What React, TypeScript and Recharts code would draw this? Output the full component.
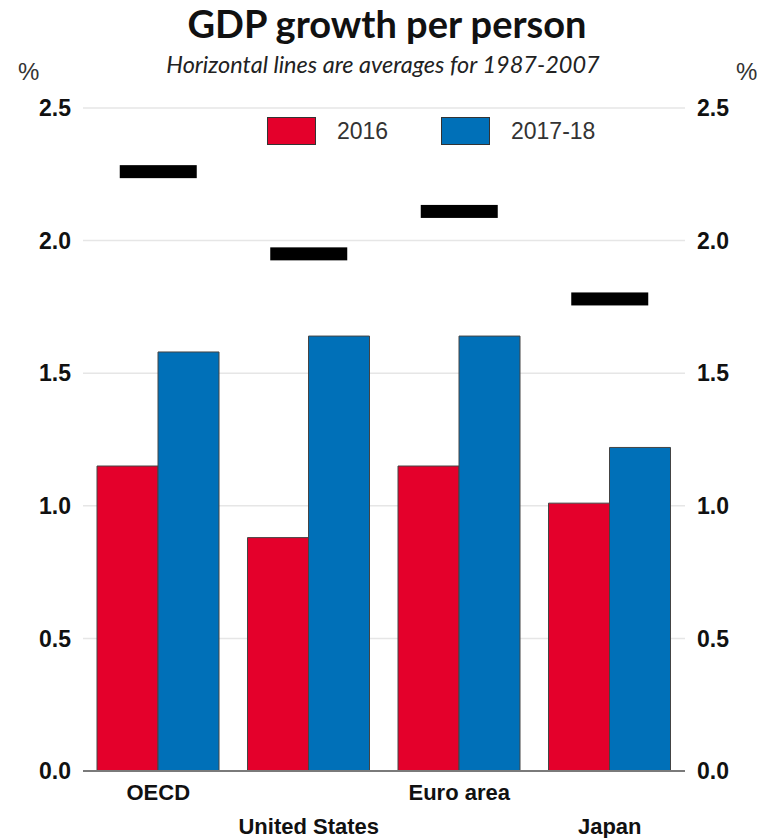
import React from 'react';
import { ComposedChart, Bar, Scatter, XAxis, YAxis, CartesianGrid, Legend } from 'recharts';

const categories = ['OECD', 'United States', 'Euro area', 'Japan'];
const growth2016 = [1.15, 0.88, 1.15, 1.01];
const growth2017 = [1.58, 1.64, 1.64, 1.22];
const avg8707 = [2.26, 1.95, 2.11, 1.78];
const yTicks = [0, 0.5, 1, 1.5, 2, 2.5];

const RED = '#e4002b';
const BLUE = '#0070b8';
const AXIS_FONT = '"Liberation Sans", Arial, sans-serif';

const data = categories.map((name, i) => ({
  name,
  y2016: growth2016[i],
  y2017: growth2017[i],
  avg: avg8707[i],
}));

// black horizontal marker for the 1987-2007 average
function AvgMark(props: any) {
  const { cx, cy } = props;
  if (cx == null || cy == null) return null;
  return <rect x={cx - 38.5} y={cy - 6.5} width={77} height={13} fill="#000" />;
}

// categories alternate between two rows
function CategoryTick(props: any) {
  const { x, y, payload, index } = props;
  const low = index % 2 === 1;
  return (
    <text
      x={x}
      y={y + (low ? 61 : 27)}
      textAnchor="middle"
      fontFamily={AXIS_FONT}
      fontWeight="bold"
      fontSize={22}
      fill="#111"
    >
      {payload.value}
    </text>
  );
}

function LegendBox(props: any) {
  const items = (props.payload || []).filter((p: any) => p.type !== 'none');
  const pos = [0, 174];
  return (
    <div style={{ position: 'relative', width: 340, height: 30 }}>
      {items.map((p: any, i: number) => (
        <div key={p.value} style={{ position: 'absolute', left: pos[i] || 0, top: 0, display: 'flex', alignItems: 'center' }}>
          <div style={{ width: 47, height: 26, background: p.color, border: '1px solid #333' }} />
          <span style={{ marginLeft: 21, fontFamily: AXIS_FONT, fontSize: 23, color: '#333' }}>{p.value}</span>
        </div>
      ))}
    </div>
  );
}

const fmt = (v: number) => v.toFixed(1);
const tickStyle = { fontFamily: AXIS_FONT, fontWeight: 'bold', fontSize: 23, fill: '#111' };

export default function App() {
  return (
    <div style={{ position: 'absolute', left: 0, top: 0, width: 757, height: 838, background: '#fff' }}>
      <ComposedChart
        width={757}
        height={838}
        data={data}
        margin={{ top: 108, right: 0, bottom: 0, left: 0 }}
        barCategoryGap={14}
        barGap={0}
      >
        <CartesianGrid yAxisId="left" vertical={false} stroke="#e6e6e6" strokeWidth={1.5} />
        <XAxis
          dataKey="name"
          height={67}
          tick={<CategoryTick />}
          tickLine={false}
          tickSize={0}
          axisLine={{ stroke: '#7a7a7a', strokeWidth: 2 }}
          interval={0}
        />
        <YAxis
          yAxisId="left"
          orientation="left"
          width={83}
          domain={[0, 2.5]}
          ticks={yTicks}
          tickFormatter={fmt}
          axisLine={false}
          tickLine={false}
          tickSize={0}
          tickMargin={12}
          tick={tickStyle}
        />
        <YAxis
          yAxisId="right"
          orientation="right"
          width={72}
          domain={[0, 2.5]}
          ticks={yTicks}
          tickFormatter={fmt}
          axisLine={false}
          tickLine={false}
          tickSize={0}
          tickMargin={12}
          tick={tickStyle}
        />
        <Legend
          layout="horizontal"
          verticalAlign="middle"
          align="center"
          content={<LegendBox />}
          wrapperStyle={{ top: 117, left: 267, width: 340, height: 30 }}
        />
        <Bar yAxisId="left" dataKey="y2016" name="2016" fill={RED} stroke="#444" strokeWidth={1} isAnimationActive={false} />
        <Bar yAxisId="left" dataKey="y2017" name="2017-18" fill={BLUE} stroke="#444" strokeWidth={1} isAnimationActive={false} />
        <Scatter yAxisId="right" dataKey="avg" name="1987-2007 average" legendType="none" fill="#000" shape={<AvgMark />} isAnimationActive={false} />
      </ComposedChart>
      <svg width={757} height={100} style={{ position: 'absolute', left: 0, top: 0, pointerEvents: 'none' }}>
        <text x={387} y={38} textAnchor="middle" fontFamily="Lato, 'Open Sans', sans-serif" fontWeight="bold" fontSize={38} fill="#111">
          GDP growth per person
        </text>
        <text x={383} y={73} textAnchor="middle" fontFamily="Lato, 'Open Sans', sans-serif" fontStyle="italic" fontSize={23.5} fill="#222">
          Horizontal lines are averages for 1987-2007
        </text>
        <text x={18} y={80} fontFamily={AXIS_FONT} fontSize={24} fill="#333">%</text>
        <text x={736} y={80} fontFamily={AXIS_FONT} fontSize={24} fill="#333">%</text>
      </svg>
    </div>
  );
}
